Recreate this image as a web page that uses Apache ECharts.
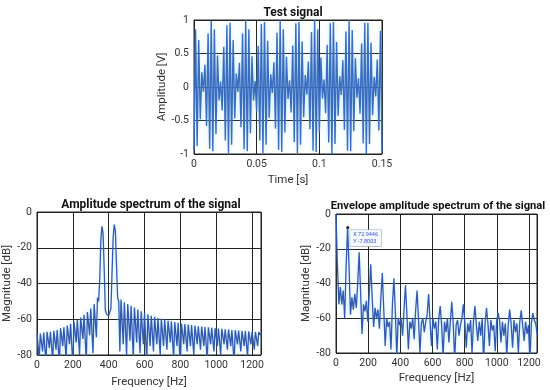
<!DOCTYPE html>
<html>
<head>
<meta charset="utf-8">
<script src="https://cdn.jsdelivr.net/npm/echarts@6/dist/echarts.min.js"></script>
<style>
html,body{margin:0;padding:0;background:#fff;}
#c{width:550px;height:390px;}
</style>
</head>
<body>
<div id="c"></div>
<script>
// ---- Test signal (sampled at half-cycle extremes) ----
const signalStep = 0.00125; // s
const signalValues = [
 -0.95,0.86,-0.88,0.7,-0.48,0.22,-0.07,0.33,-0.58,0.8,
 -0.92,0.99,-0.96,0.86,-0.7,0.47,-0.2,0.08,-0.35,0.6,
 -0.8,0.92,-0.99,0.96,-0.86,0.7,-0.47,0.2,-0.07,0.36,
 -0.6,0.8,-0.93,1.0,-0.96,0.86,-0.69,0.46,-0.2,0.09,
 -0.36,0.61,-0.8,0.94,-0.99,0.97,-0.86,0.69,-0.46,0.19,
 -0.09,0.37,-0.62,0.81,-0.94,1.0,-0.97,0.86,-0.68,0.45,
 -0.18,0.1,-0.38,0.62,-0.82,0.95,-0.99,0.97,-0.86,0.68,
 -0.45,0.18,-0.11,0.38,-0.63,0.82,-0.95,1.0,-0.97,0.86,
 -0.67,0.44,-0.17,0.11,-0.39,0.63,-0.83,0.95,-1.0,0.97,
 -0.85,0.67,-0.43,0.16,-0.12,0.4,-0.64,0.83,-0.95,1.0,
 -0.96,0.85,-0.66,0.43,-0.16,0.13,-0.4,0.65,-0.84,0.96,
 -1.0,0.96,-0.85,0.66,-0.42,0.15,-0.14,0.41,-0.65,0.84,
 -0.96
];
const timeTicks = [0, 0.05, 0.1, 0.15];

// ---- Amplitude spectrum (dB), frequency step 6.25 Hz ----
const ampStep = 6.25; // Hz
const ampDb = [
 -68,-69,-82, -68,-68.5,-78, -67.5,-68,-84, -67,-67.5,-76, -67,-67.5,-83,
 -66.5,-67,-77, -66,-66.5,-85, -65,-65.5,-75, -64.5,-65,-82, -63.5,-64,-74,
 -62.5,-63,-86, -61.5,-62,-73, -60.5,-61,-80, -59,-59.5,-71, -57.5,-58,-84,
 -56,-56.5,-69, -54,-54.5,-79, -51.5,-52,-70,
 -48,-50,-38,-16,-8,-12,-32,-55,-57,-56,-58,-57,-54,-34,-14,-7,-11,-30,-48,-50,-78,
 -49,-49.5,-74, -50.5,-51,-80, -51.5,-52,-72, -52.5,-53,-82, -53.5,-54,-73,
 -54.5,-55,-79, -55.5,-56,-74, -56.5,-57,-84, -57.2,-57.7,-75, -58,-58.5,-78,
 -58.7,-59.2,-74, -59.3,-59.8,-80, -59.8,-60.3,-75, -60.3,-60.8,-77, -60.8,-61.3,-73,
 -61.2,-61.7,-82, -61.6,-62.1,-75, -62,-62.5,-86, -62.4,-62.9,-74, -62.7,-63.2,-78,
 -63,-63.5,-75, -63.3,-63.8,-80, -63.6,-64.1,-74, -63.9,-64.4,-77, -64.1,-64.6,-75,
 -64.3,-64.8,-83, -64.5,-65,-74, -64.8,-65.3,-78, -65,-65.5,-75, -65.2,-65.7,-80,
 -65.4,-65.9,-74, -65.6,-66.1,-77, -65.8,-66.3,-75, -66,-66.5,-84, -66.1,-66.6,-74,
 -66.3,-66.8,-78, -66.5,-67,-75, -66.6,-67.1,-81, -66.8,-67.3,-74, -67,-67.5,-77,
 -67.1,-67.6,-75, -67.2,-67.7,-69
];

// ---- Envelope amplitude spectrum (dB), frequency step 9 Hz ----
const envStep = 9; // Hz
const envDb = [
 0,-30,-52,-42,-52,-44,-60,-30,-7.8,-30,
 -58,-48,-55,-46,-54,-40,-22,-45,-69,-52,
 -56,-50,-62,-45,-29,-48,-65,-54,-60,-55,
 -66,-48,-34,-55,-76,-60,-65,-62,-78,-52,
 -37,-56,-82,-60,-64,-60,-70,-55,-41,-58,
 -78,-62,-66,-60,-72,-56,-44,-60,-80,-63,
 -60,-68,-62,-58,-46,-62,-76,-60,-66,-62,
 -78,-60,-53,-64,-82,-62,-68,-60,-74,-62,
 -50.5,-63,-84,-64,-61,-70,-64,-60,-52,-62,
 -77,-63,-68,-61,-80,-62,-53,-64,-73,-62,
 -70,-60,-85,-63,-54,-63,-76,-61,-67,-64,
 -79,-62,-57,-61,-74,-62,-70,-63,-82,-64,
 -55,-63,-77,-61,-68,-63,-80,-62,-55.5,-64,
 -73,-62,-69,-64,-85,-63,-57,-61,-63,-69
];
const freqTicksMax = 1250;
const dbTicks = [0, -20, -40, -60, -80];
const datatip = {x: 72.9446, y: -7.8003};

// ---- build ----
const sigData = signalValues.map((v, i) => [i * signalStep, v]);
const ampData = ampDb.map((v, i) => [i * ampStep, v]);
const envData = envDb.map((v, i) => [i * envStep, v]);

const FONT = 'Roboto';
const tickLabel = {fontFamily: FONT, fontSize: 10.5, color: '#333', margin: 5,
  formatter: v => String(+v.toFixed(6))};
const nameStyle = {fontFamily: FONT, fontSize: 11.5, color: '#333'};
const split = {show: true, lineStyle: {color: '#222', width: 1}};

function xAx(gi, min, max, interval, name, gap, hideMax) {
  return {
    type: 'value', gridIndex: gi, min: min, max: max, interval: interval,
    name: name, nameLocation: 'middle', nameGap: gap, nameTextStyle: nameStyle,
    axisLine: {show: false}, axisTick: {show: false},
    axisLabel: Object.assign({}, tickLabel, {showMaxLabel: !hideMax}),
    splitLine: split
  };
}
function yAx(gi, min, max, interval, name, gap) {
  return {
    type: 'value', gridIndex: gi, min: min, max: max, interval: interval,
    name: name, nameLocation: 'middle', nameGap: gap, nameTextStyle: nameStyle,
    axisLine: {show: false}, axisTick: {show: false},
    axisLabel: tickLabel, splitLine: split
  };
}

const chart = echarts.init(document.getElementById('c'), null, {renderer: 'canvas'});
const titleStyle = {fontFamily: FONT, fontSize: 12, fontWeight: 'bold', color: '#111'};
const halo = {shadowColor: 'rgba(120,215,255,0.45)', shadowBlur: 5};
chart.setOption({
  animation: false,
  backgroundColor: '#fff',
  title: [
    {text: 'Test signal', left: 288, top: 2, textAlign: 'center', textStyle: titleStyle},
    {text: 'Amplitude spectrum of the signal', left: 146, top: 194, textAlign: 'center', textStyle: titleStyle},
    {text: 'Envelope amplitude spectrum of the signal', left: 433, top: 196, textAlign: 'center',
     textStyle: Object.assign({}, titleStyle, {fontSize: 11.2})}
  ],
  grid: [
    {left: 194, right: 168, top: 20, bottom: 236, show: true, borderColor: '#222', borderWidth: 1, backgroundColor: 'transparent'},
    {left: 37, right: 289, top: 212, bottom: 35, show: true, borderColor: '#222', borderWidth: 1, backgroundColor: 'transparent'},
    {left: 336, right: 13, top: 214, bottom: 37, show: true, borderColor: '#222', borderWidth: 1, backgroundColor: 'transparent'}
  ],
  xAxis: [
    xAx(0, timeTicks[0], timeTicks[timeTicks.length - 1], 0.05, 'Time [s]', 20, false),
    xAx(1, 0, freqTicksMax, 200, 'Frequency [Hz]', 21, true),
    xAx(2, 0, freqTicksMax, 200, 'Frequency [Hz]', 19, true)
  ],
  yAxis: [
    yAx(0, -1, 1, 0.5, 'Amplitude [V]', 21),
    yAx(1, dbTicks[dbTicks.length - 1], dbTicks[0], 20, 'Magnitude [dB]', 19),
    yAx(2, dbTicks[dbTicks.length - 1], dbTicks[0], 20, 'Magnitude [dB]', 13)
  ],
  series: [
    {type: 'line', xAxisIndex: 0, yAxisIndex: 0, data: sigData, showSymbol: false,
     lineStyle: Object.assign({color: '#3a6cc0', width: 1.4}, halo), clip: true},
    {type: 'line', xAxisIndex: 1, yAxisIndex: 1, data: ampData, showSymbol: false,
     lineStyle: Object.assign({color: '#3358b0', width: 1.3}, halo), clip: true},
    {type: 'line', xAxisIndex: 2, yAxisIndex: 2, data: envData, showSymbol: false,
     lineStyle: Object.assign({color: '#3358b0', width: 1.3}, halo), clip: true,
     markPoint: {
       symbol: 'circle', symbolSize: 3,
       itemStyle: {color: '#222'},
       data: [{coord: [datatip.x, datatip.y]}],
       label: {
         show: true, position: [4, 4],
         formatter: 'X ' + datatip.x + '\nY ' + datatip.y,
         fontFamily: FONT, fontSize: 5.5, lineHeight: 7, color: '#3a55d0',
         backgroundColor: '#f6f9ff', borderColor: '#9aa', borderWidth: 0.6,
         padding: [1, 3]
       }
     }}
  ]
});
</script>
</body>
</html>
